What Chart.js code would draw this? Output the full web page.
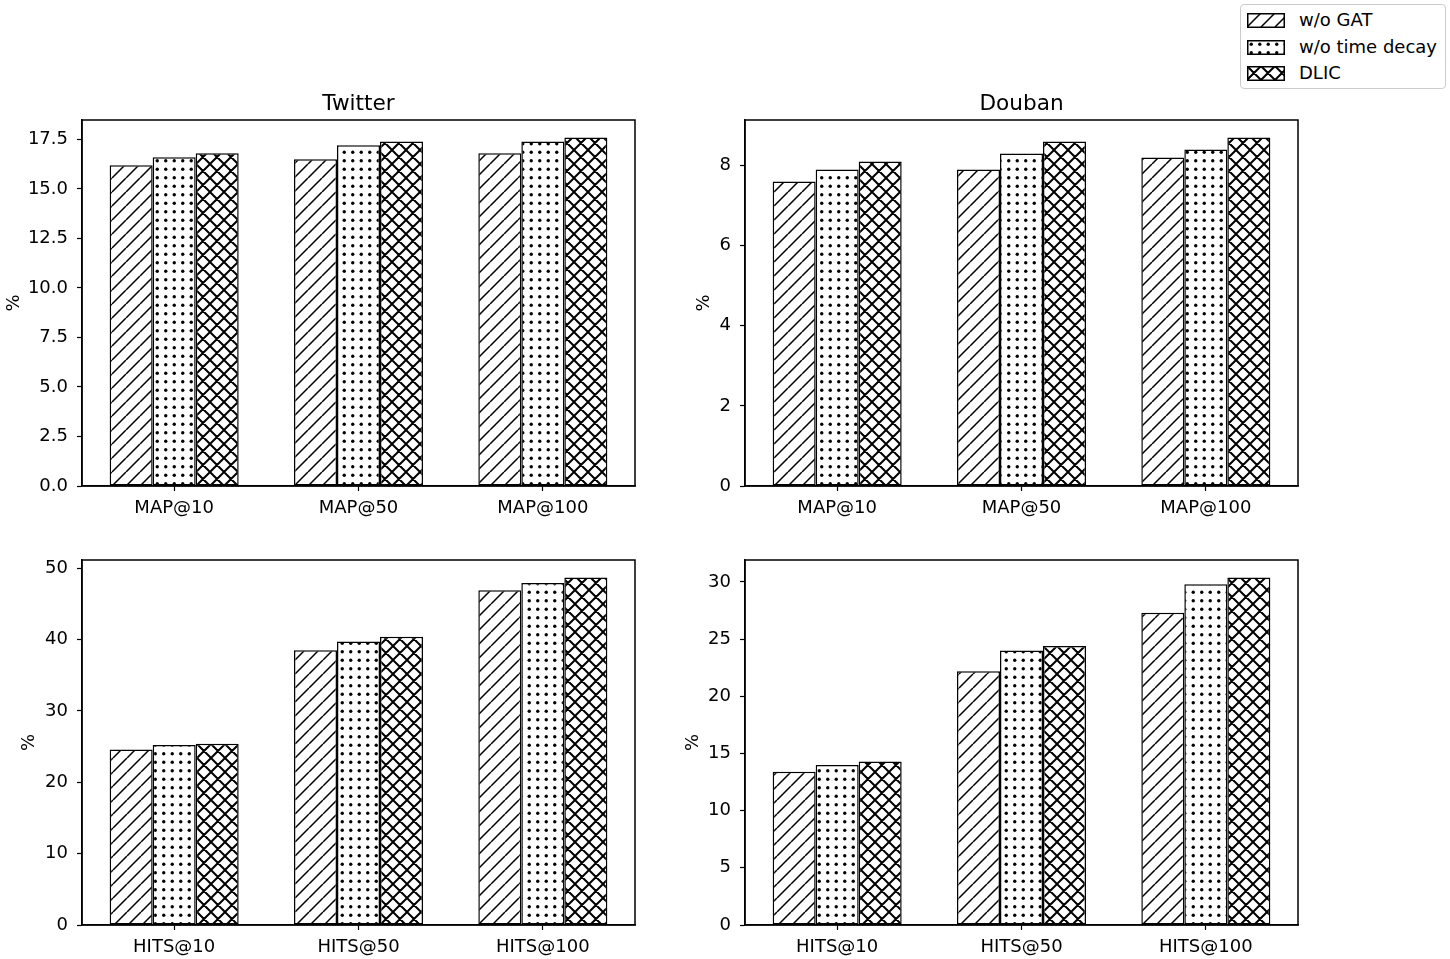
<!DOCTYPE html>
<html>
<head>
<meta charset="utf-8">
<script src="https://cdn.jsdelivr.net/npm/chart.js@4.4.0/dist/chart.umd.min.js"></script>
<style>
  body { margin: 0; background: #fff; width: 1450px; height: 959px; position: relative; overflow: hidden; font-family: "DejaVu Sans", sans-serif; }
  canvas.panel { position: absolute; }
  #legend { position: absolute; left: 1240px; top: 4px; width: 204px; height: 83px; border: 1.5px solid #ccc; border-radius: 4px; background: #fff; }
  #legend .row { position: absolute; left: 6px; height: 20px; }
  #legend canvas { position: absolute; left: 0; top: 3px; }
  #legend span { position: absolute; left: 52px; top: -1px; font-size: 18px; white-space: nowrap; color: #000; }
</style>
</head>
<body>
<canvas class="panel" id="tl"></canvas>
<canvas class="panel" id="tr"></canvas>
<canvas class="panel" id="bl"></canvas>
<canvas class="panel" id="br"></canvas>
<div id="legend"></div>
<script>
// categories
const mapLabels = ['MAP@10', 'MAP@50', 'MAP@100'];
const hitsLabels = ['HITS@10', 'HITS@50', 'HITS@100'];
const seriesNames = ['w/o GAT', 'w/o time decay', 'DLIC'];

// Twitter MAP (%)
const twMapWoGat = [16.2, 16.5, 16.8];
const twMapWoTime = [16.6, 17.2, 17.4];
const twMapDlic = [16.8, 17.4, 17.6];
// Douban MAP (%)
const dbMapWoGat = [7.6, 7.9, 8.2];
const dbMapWoTime = [7.9, 8.3, 8.4];
const dbMapDlic = [8.1, 8.6, 8.7];
// Twitter HITS (%)
const twHitsWoGat = [24.6, 38.5, 46.9];
const twHitsWoTime = [25.2, 39.7, 47.9];
const twHitsDlic = [25.4, 40.4, 48.7];
// Douban HITS (%)
const dbHitsWoGat = [13.4, 22.2, 27.3];
const dbHitsWoTime = [14.0, 24.0, 29.8];
const dbHitsDlic = [14.3, 24.4, 30.4];

const FONT = 'DejaVu Sans';

// hatch patterns like matplotlib '//', '..', 'xx'
function makePattern(kind) {
  const c = document.createElement('canvas');
  const g = c.getContext('2d');
  if (kind === 'dots') {
    c.width = 17; c.height = 17;
    g.fillStyle = '#fff'; g.fillRect(0, 0, 17, 17);
    g.fillStyle = '#000';
    [[4.25, 4.25], [12.75, 4.25], [4.25, 12.75], [12.75, 12.75]].forEach(([x, y]) => {
      g.beginPath(); g.arc(x, y, 1.7, 0, Math.PI * 2); g.fill();
    });
    return g.createPattern(c, 'repeat');
  }
  const p = 14;
  c.width = p; c.height = p;
  g.fillStyle = '#fff'; g.fillRect(0, 0, p, p);
  g.strokeStyle = '#000';
  g.lineWidth = kind === 'slash' ? 1.5 : 2;
  g.beginPath();
  for (let k = -1; k <= 1; k++) {
    g.moveTo(k * p, p); g.lineTo(k * p + p, 0);
    if (kind === 'cross') { g.moveTo(k * p, 0); g.lineTo(k * p + p, p); }
  }
  g.stroke();
  return g.createPattern(c, 'repeat');
}

const fills = [makePattern('slash'), makePattern('dots'), makePattern('cross')];

const boxPlugin = {
  id: 'panelBox',
  afterDraw(chart, args, opts) {
    const a = chart.chartArea, ctx = chart.ctx;
    ctx.save();
    ctx.strokeStyle = '#000';
    ctx.lineWidth = 1.5;
    ctx.strokeRect(a.left, a.top, a.right - a.left, a.bottom - a.top);
    if (opts.text) {
      ctx.fillStyle = '#000';
      ctx.font = '21.6px "' + FONT + '"';
      ctx.textAlign = 'center';
      ctx.textBaseline = 'middle';
      ctx.fillText(opts.text, (a.left + a.right) / 2, a.top - 16);
    }
    ctx.restore();
  }
};

function drawPanel(id, geo, title, labels, series, step, decimals) {
  const canvas = document.getElementById(id);
  const left = geo.L - geo.yW;
  const top = geo.T - 40;
  canvas.width = geo.R - left + 6;
  canvas.height = 40 + (geo.B - geo.T) + geo.xH;
  canvas.style.left = left + 'px';
  canvas.style.top = top + 'px';
  const yMax = Math.max(...series.flat()) * 1.05;

  new Chart(canvas.getContext('2d'), {
    type: 'bar',
    data: {
      labels: labels,
      datasets: series.map((vals, i) => ({
        label: seriesNames[i],
        data: vals,
        backgroundColor: fills[i],
        borderColor: '#000',
        borderWidth: 1.5,
        borderSkipped: false,
        categoryPercentage: 0.7,
        barPercentage: 1.0
      }))
    },
    options: {
      responsive: false,
      animation: false,
      devicePixelRatio: 1,
      layout: { padding: { top: 40, right: 6, left: 0, bottom: 0 } },
      plugins: {
        legend: { display: false },
        tooltip: { enabled: false },
        panelBox: { text: title }
      },
      scales: {
        x: {
          offset: true,
          grid: { offset: false, drawOnChartArea: false, drawTicks: true, tickLength: 5, color: '#000', tickWidth: 1.2 },
          border: { display: true, color: '#000', width: 1.5 },
          ticks: { color: '#000', font: { family: FONT, size: 18 }, padding: 7, maxRotation: 0 },
          afterFit(scale) { scale.height = geo.xH; }
        },
        y: {
          min: 0,
          max: yMax,
          bounds: 'data',
          grid: { drawOnChartArea: false, drawTicks: true, tickLength: 5, color: '#000', tickWidth: 1.2 },
          border: { display: true, color: '#000', width: 1.5 },
          ticks: {
            stepSize: step,
            includeBounds: false,
            color: '#000',
            font: { family: FONT, size: 18 },
            padding: 9,
            callback: v => v.toFixed(decimals)
          },
          title: { display: true, text: '%', color: '#000', font: { family: FONT, size: 18 }, padding: { top: 4, bottom: 4 } },
          afterFit(scale) { scale.width = geo.yW; }
        }
      }
    },
    plugins: [boxPlugin]
  });
}

drawPanel('tl', { L: 82, R: 635, T: 120, B: 486, yW: 82, xH: 45 }, 'Twitter', mapLabels,
  [twMapWoGat, twMapWoTime, twMapDlic], 2.5, 1);
drawPanel('tr', { L: 745, R: 1298, T: 120, B: 486, yW: 55, xH: 45 }, 'Douban', mapLabels,
  [dbMapWoGat, dbMapWoTime, dbMapDlic], 2, 0);
drawPanel('bl', { L: 82, R: 635, T: 560, B: 925, yW: 67, xH: 34 }, '', hitsLabels,
  [twHitsWoGat, twHitsWoTime, twHitsDlic], 10, 0);
drawPanel('br', { L: 745, R: 1298, T: 560, B: 925, yW: 66, xH: 34 }, '', hitsLabels,
  [dbHitsWoGat, dbHitsWoTime, dbHitsDlic], 5, 0);

// legend
const legend = document.getElementById('legend');
const rowTops = [5, 31.5, 58];
seriesNames.forEach((name, i) => {
  const row = document.createElement('div');
  row.className = 'row';
  row.style.top = rowTops[i] + 'px';
  const sw = document.createElement('canvas');
  sw.width = 38; sw.height = 15;
  const g = sw.getContext('2d');
  g.fillStyle = fills[i];
  g.fillRect(0, 0, 38, 15);
  g.strokeStyle = '#000';
  g.lineWidth = 1.5;
  g.strokeRect(0.75, 0.75, 36.5, 13.5);
  const label = document.createElement('span');
  label.textContent = name;
  row.appendChild(sw);
  row.appendChild(label);
  legend.appendChild(row);
});
</script>
</body>
</html>
